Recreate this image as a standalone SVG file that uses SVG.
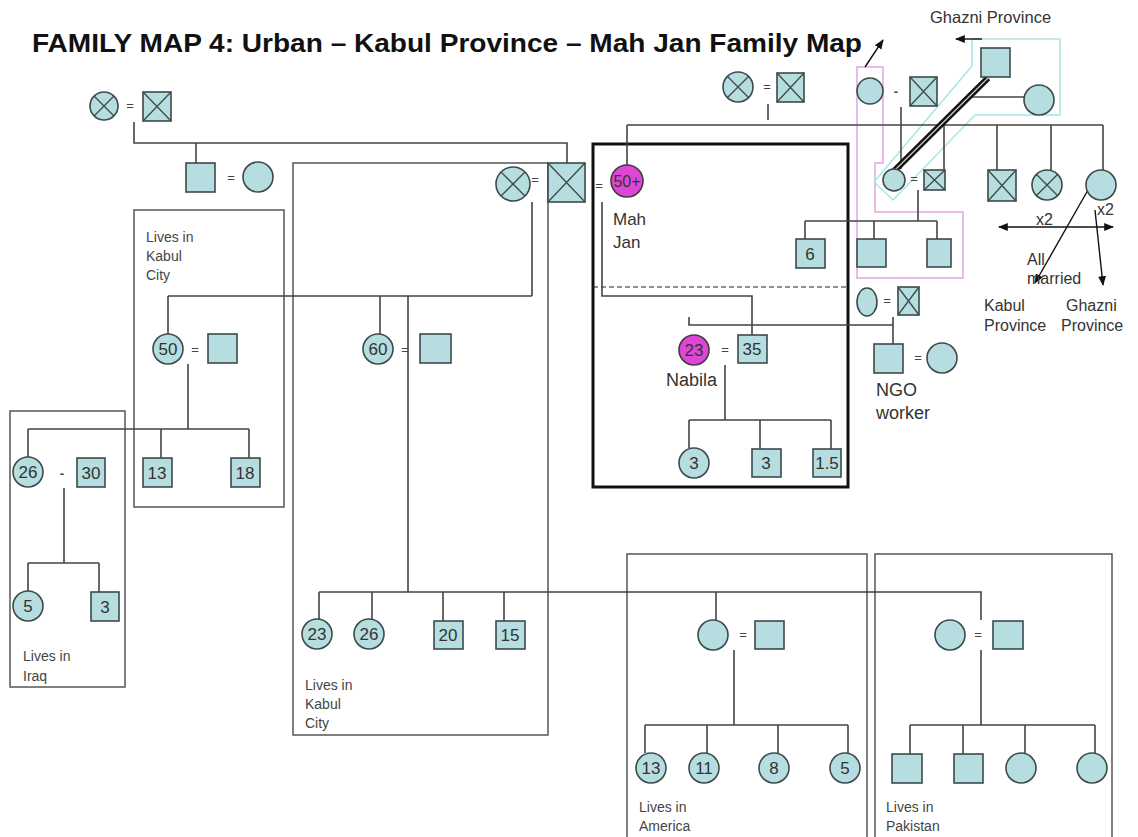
<svg xmlns="http://www.w3.org/2000/svg" width="1138" height="837" viewBox="0 0 1138 837">
<defs>
<style>
.f{fill:#b6dde0;stroke:#3d4a4a;stroke-width:1.6}
.m{fill:#e046d6;stroke:#3d3d3d;stroke-width:1.6}
.x{stroke:#3d4a4a;stroke-width:1.3;fill:none}
.ln{stroke:#444;stroke-width:1.6;fill:none}
.box{fill:none;stroke:#555;stroke-width:1.5}
.t{font-family:"Liberation Sans",Arial,sans-serif;fill:#333;font-size:18px}
.n{font-family:"Liberation Sans",Arial,sans-serif;font-size:17px;fill:#333;text-anchor:middle}
.eq{font-family:"Liberation Sans",Arial,sans-serif;font-size:13px;fill:#444;text-anchor:middle}
.lab{font-family:"Liberation Sans",Arial,sans-serif;font-size:14px;fill:#444}
.pl{font-family:"Liberation Sans",Arial,sans-serif;font-size:16px;fill:#333}
.ar{stroke:#111;stroke-width:1.4;fill:none}
</style>
<marker id="ah" viewBox="0 0 10 10" refX="9" refY="5" markerWidth="7" markerHeight="7" orient="auto-start-reverse"><path d="M0,1 L10,5 L0,9 z" fill="#111"/></marker>
</defs>
<rect width="1138" height="837" fill="#fff"/>
<text x="32" y="52" font-family="'Liberation Sans',Arial,sans-serif" font-weight="bold" font-size="25" fill="#111" textLength="830" lengthAdjust="spacingAndGlyphs">FAMILY MAP 4: Urban – Kabul Province – Mah Jan Family Map</text>

<g id="regions">
<rect class="box" x="134" y="210" width="150" height="297"/>
<rect class="box" x="293" y="163" width="255" height="572"/>
<rect class="box" x="10" y="411" width="115" height="276"/>
<rect class="box" x="627" y="554" width="240" height="290"/>
<rect class="box" x="875" y="554" width="237" height="290"/>
<rect x="593" y="144" width="255" height="343" fill="none" stroke="#111" stroke-width="3"/>
<path d="M593,287 H848" stroke="#222" stroke-width="1" stroke-dasharray="5,3" fill="none"/>
<polygon points="857,67 883,67 883,163 875,163 875,212 963,212 963,278 857,278" fill="none" stroke="#e0a8e0" stroke-width="1.5"/>
<polygon points="972,39 1060,39 1060,115 975,115 893,200 874,182 972,66" fill="none" stroke="#a8e6e6" stroke-width="1.5"/>
<text class="lab" x="146" y="242">Lives in</text><text class="lab" x="146" y="261">Kabul</text><text class="lab" x="146" y="280">City</text>
<text class="lab" x="305" y="690">Lives in</text><text class="lab" x="305" y="709">Kabul</text><text class="lab" x="305" y="728">City</text>
<text class="lab" x="23" y="661">Lives in</text><text class="lab" x="23" y="681">Iraq</text>
<text class="lab" x="639" y="812">Lives in</text><text class="lab" x="639" y="831">America</text>
<text class="lab" x="886" y="812">Lives in</text><text class="lab" x="886" y="831">Pakistan</text>
</g>

<g id="connectors">
<path class="ln" d="M134,122 V143 H567 V163"/>
<path class="ln" d="M196,143 V163"/>
<path class="ln" d="M532,202 V296 M168,296 H532 M168,296 V334 M380,296 V334 M408,296 V592"/>
<path class="ln" d="M319,592 H981 V620 M981,650 V725 M319,592 V619 M372,592 V619 M443,592 V621 M504,592 V621 M716,592 V620"/>
<path class="ln" d="M734,650 V725 M645,725 H848 M645,725 V753 M707,725 V753 M778,725 V753 M848,725 V753"/>
<path class="ln" d="M910,725 H1095 M910,725 V754 M963,725 V754 M1025,725 V753 M1095,725 V753"/>
<path class="ln" d="M188,364 V429 M28,429 H249 M28,429 V457 M161,429 V458 M249,429 V458"/>
<path class="ln" d="M64,488 V563 M28,563 H99 M28,563 V591 M99,563 V592"/>
<path class="ln" d="M768,104 V120 M627,125 H1103 M627,125 V165 M944,125 V170 M997,125 V170 M1051,125 V170 M1103,125 V170"/>
<path class="ln" d="M901,107 V169"/>
<path class="ln" d="M918,190 V221 M805,221 H937 M805,221 V239 M874,221 V239 M937,221 V239"/>
<path class="ln" d="M602,202 V296 H752 V335"/>
<path class="ln" d="M893,317 V344 M689,317 V325 H893"/>
<path class="ln" d="M725,365 V420 M689,420 H831 M689,420 V448 M760,420 V449 M831,420 V449"/>
<path class="ln" d="M972,97 H1024"/>
<path d="M988,78 L893,172" stroke="#111" stroke-width="6" fill="none"/>
<path d="M988,78 L893,172" stroke="#ccc" stroke-width="1.2" fill="none"/>
<path class="ar" d="M865,67 L883,40" marker-end="url(#ah)"/>
<path class="ar" d="M982,39 H956" marker-end="url(#ah)"/>
<path class="ar" d="M999,227 H1113" marker-start="url(#ah)" marker-end="url(#ah)"/>
<path class="ar" d="M1088,190 L1035,283" marker-end="url(#ah)"/>
<path class="ar" d="M1095,210 L1103,285" marker-end="url(#ah)"/>
</g>

<g id="gp-left">
<circle class="f" cx="104" cy="106" r="14"/><path class="x" d="M94,96 L114,116 M114,96 L94,116"/>
<text class="eq" x="130" y="110">=</text>
<rect class="f" x="143" y="92" width="28" height="29"/><path class="x" d="M143,92 L171,121 M171,92 L143,121"/>
</g>
<g id="uncle-couple">
<rect class="f" x="186" y="163" width="29" height="29"/>
<text class="eq" x="231" y="182">=</text>
<circle class="f" cx="258" cy="177" r="15"/>
</g>
<g id="husband-couple">
<circle class="f" cx="513" cy="184" r="17"/><path class="x" d="M501,172 L525,196 M525,172 L501,196"/>
<text class="eq" x="535" y="184">=</text>
<rect class="f" x="548" y="163" width="37" height="39"/><path class="x" d="M548,163 L585,202 M585,163 L548,202"/>
<text class="eq" x="599" y="190">=</text>
</g>
<g id="mah-jan">
<circle class="m" cx="627" cy="181" r="16"/>
<text class="n" x="627" y="187" style="font-size:16px">50+</text>
<text class="t" x="613" y="225" style="font-size:17px">Mah</text>
<text class="t" x="613" y="248" style="font-size:17px">Jan</text>
</g>
<g id="gp-mid">
<circle class="f" cx="738" cy="87" r="15"/><path class="x" d="M727,76 L749,98 M749,76 L727,98"/>
<text class="eq" x="767" y="91">=</text>
<rect class="f" x="777" y="73" width="27" height="29"/><path class="x" d="M777,73 L804,102 M804,73 L777,102"/>
</g>
<g id="pink-couple">
<circle class="f" cx="870" cy="91" r="13"/>
<text class="eq" x="896" y="96" font-weight="bold">-</text>
<rect class="f" x="910" y="77" width="27" height="29"/><path class="x" d="M910,77 L937,106 M937,77 L910,106"/>
</g>
<g id="ghazni">
<rect class="f" x="981" y="48" width="29" height="29"/>
<circle class="f" cx="1039" cy="100" r="15"/>
<text class="pl" x="930" y="23" style="font-size:16.5px">Ghazni Province</text>
</g>
<g id="small-couple">
<circle class="f" cx="894" cy="180" r="11"/>
<text class="eq" x="914" y="183">=</text>
<rect class="f" x="924" y="170" width="21" height="20"/><path class="x" d="M924,170 L945,190 M945,170 L924,190"/>
</g>
<g id="siblings">
<rect class="f" x="988" y="170" width="28" height="31"/><path class="x" d="M988,170 L1016,201 M1016,170 L988,201"/>
<circle class="f" cx="1047" cy="185" r="15"/><path class="x" d="M1036,174 L1058,196 M1058,174 L1036,196"/>
<circle class="f" cx="1101" cy="185" r="15"/>
<text class="pl" x="1036" y="225">x2</text>
<text class="pl" x="1097" y="215">x2</text>
<text class="pl" x="1027" y="265">All</text>
<text class="pl" x="1027" y="284">married</text>
<text class="pl" x="984" y="311">Kabul</text>
<text class="pl" x="984" y="331">Province</text>
<text class="pl" x="1066" y="311">Ghazni</text>
<text class="pl" x="1061" y="331">Province</text>
</g>
<g id="cousins">
<rect class="f" x="796" y="239" width="29" height="29"/><text class="n" x="810" y="260">6</text>
<rect class="f" x="857" y="239" width="29" height="28"/>
<rect class="f" x="927" y="239" width="24" height="28"/>
</g>
<g id="ngo-parents">
<ellipse class="f" cx="867" cy="302" rx="10" ry="14"/>
<text class="eq" x="887" y="305">=</text>
<rect class="f" x="898" y="287" width="21" height="28"/><path class="x" d="M898,287 L919,315 M919,287 L898,315"/>
</g>
<g id="ngo-couple">
<rect class="f" x="874" y="344" width="29" height="29"/>
<text class="eq" x="918" y="362">=</text>
<circle class="f" cx="942" cy="358" r="15"/>
<text class="t" x="876" y="396">NGO</text>
<text class="t" x="876" y="419">worker</text>
</g>
<g id="nabila-couple">
<circle class="m" cx="694" cy="350" r="15"/><text class="n" x="694" y="356">23</text>
<text class="eq" x="725" y="354">=</text>
<rect class="f" x="738" y="335" width="29" height="28"/><text class="n" x="752" y="355">35</text>
<text class="t" x="666" y="386">Nabila</text>
</g>
<g id="nabila-children">
<circle class="f" cx="694" cy="463" r="15"/><text class="n" x="694" y="469">3</text>
<rect class="f" x="752" y="449" width="29" height="28"/><text class="n" x="766" y="469">3</text>
<rect class="f" x="813" y="449" width="28" height="28"/><text class="n" x="827" y="469">1.5</text>
</g>
<g id="aunt50-couple">
<circle class="f" cx="168" cy="349" r="15"/><text class="n" x="168" y="355">50</text>
<text class="eq" x="195" y="354">=</text>
<rect class="f" x="208" y="334" width="29" height="29"/>
</g>
<g id="aunt50-children">
<rect class="f" x="143" y="458" width="29" height="29"/><text class="n" x="157" y="479">13</text>
<rect class="f" x="231" y="458" width="29" height="29"/><text class="n" x="245" y="479">18</text>
</g>
<g id="iraq-couple">
<circle class="f" cx="28" cy="472" r="15"/><text class="n" x="28" y="478">26</text>
<text class="eq" x="62" y="478" font-weight="bold">-</text>
<rect class="f" x="77" y="458" width="28" height="29"/><text class="n" x="91" y="479">30</text>
</g>
<g id="iraq-children">
<circle class="f" cx="28" cy="606" r="15"/><text class="n" x="28" y="612">5</text>
<rect class="f" x="91" y="592" width="28" height="29"/><text class="n" x="105" y="613">3</text>
</g>
<g id="aunt60-couple">
<circle class="f" cx="378" cy="349" r="15"/><text class="n" x="378" y="355">60</text>
<text class="eq" x="405" y="354">=</text>
<rect class="f" x="420" y="334" width="31" height="29"/>
</g>
<g id="aunt60-children">
<circle class="f" cx="317" cy="634" r="15"/><text class="n" x="317" y="640">23</text>
<circle class="f" cx="369" cy="634" r="15"/><text class="n" x="369" y="640">26</text>
<rect class="f" x="434" y="621" width="29" height="28"/><text class="n" x="448" y="641">20</text>
<rect class="f" x="496" y="621" width="29" height="28"/><text class="n" x="510" y="641">15</text>
</g>
<g id="america-couple">
<circle class="f" cx="713" cy="635" r="15"/>
<text class="eq" x="743" y="639">=</text>
<rect class="f" x="755" y="621" width="29" height="28"/>
</g>
<g id="america-children">
<circle class="f" cx="651" cy="768" r="15"/><text class="n" x="651" y="774">13</text>
<circle class="f" cx="704" cy="768" r="15"/><text class="n" x="704" y="774">11</text>
<circle class="f" cx="774" cy="768" r="15"/><text class="n" x="774" y="774">8</text>
<circle class="f" cx="845" cy="768" r="15"/><text class="n" x="845" y="774">5</text>
</g>
<g id="pakistan-couple">
<circle class="f" cx="950" cy="635" r="15"/>
<text class="eq" x="978" y="639">=</text>
<rect class="f" x="993" y="621" width="30" height="28"/>
</g>
<g id="pakistan-children">
<rect class="f" x="892" y="754" width="30" height="29"/>
<rect class="f" x="954" y="754" width="29" height="29"/>
<circle class="f" cx="1021" cy="768" r="15"/>
<circle class="f" cx="1092" cy="768" r="15"/>
</g>
</svg>
